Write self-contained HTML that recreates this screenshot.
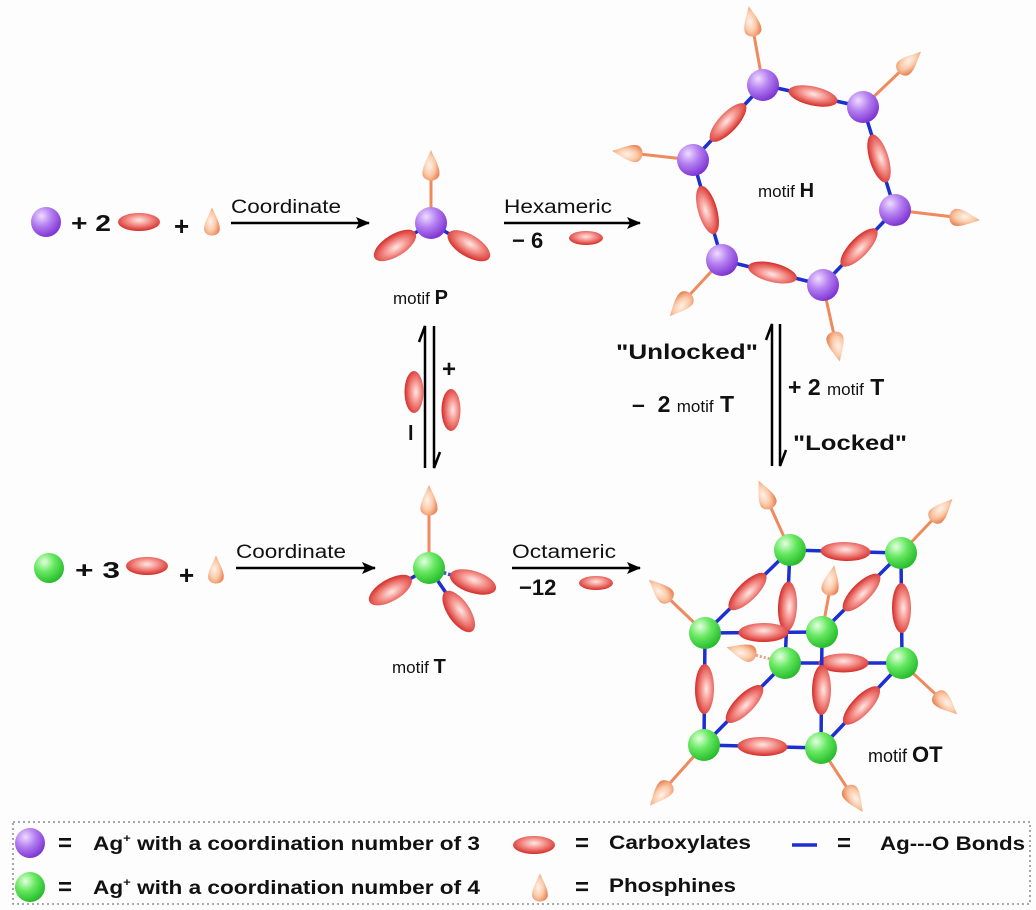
<!DOCTYPE html>
<html><head><meta charset="utf-8"><style>
html,body{margin:0;padding:0;background:#fff}
svg{display:block}
text{font-family:"Liberation Sans",Arial,sans-serif;fill:#111}
.b{font-weight:bold}
</style></head><body>
<svg id="s" width="1036" height="910" viewBox="0 0 1036 910" xmlns="http://www.w3.org/2000/svg">
<defs>
<radialGradient id="gp" cx="0.35" cy="0.3" r="0.75"><stop offset="0" stop-color="#efdcff"/><stop offset="0.45" stop-color="#b47ff0"/><stop offset="1" stop-color="#7a2fd0"/></radialGradient>
<radialGradient id="gg" cx="0.35" cy="0.3" r="0.75"><stop offset="0" stop-color="#e4ffe0"/><stop offset="0.45" stop-color="#66e860"/><stop offset="1" stop-color="#22b828"/></radialGradient>
<radialGradient id="gc" cx="0.5" cy="0.4" r="0.6"><stop offset="0" stop-color="#ffe8e4"/><stop offset="0.45" stop-color="#f4908a"/><stop offset="1" stop-color="#d42a26"/></radialGradient>
<radialGradient id="gf" cx="0.5" cy="0.4" r="0.6"><stop offset="0" stop-color="#fff2ea"/><stop offset="0.55" stop-color="#fbcaa8"/><stop offset="1" stop-color="#e98a5e"/></radialGradient>
<marker id="ah" markerWidth="14" markerHeight="12" refX="13" refY="6" orient="auto" markerUnits="userSpaceOnUse"><path d="M0,0 L14,6 L0,12 L3,6 Z" fill="#000"/></marker>
</defs>
<rect width="1036" height="910" fill="#fdfdfd"/>
<g id="g"></g>

<text x="71" y="231" class="b" font-size="23" textLength="40" lengthAdjust="spacingAndGlyphs">+ 2</text>
<text x="174" y="235" class="b" font-size="26">+</text>
<text x="231" y="213" font-size="19" textLength="110" lengthAdjust="spacingAndGlyphs">Coordinate</text>
<line x1="231" y1="223" x2="369" y2="223" stroke="#000" stroke-width="2.5" marker-end="url(#ah)"/>
<text x="393" y="304" font-size="17">motif <tspan class="b" font-size="20">P</tspan></text>
<text x="504" y="213" font-size="19" textLength="108" lengthAdjust="spacingAndGlyphs">Hexameric</text>
<line x1="504" y1="223" x2="640" y2="223" stroke="#000" stroke-width="2.5" marker-end="url(#ah)"/>
<text x="512" y="248" class="b" font-size="22">− 6</text>
<text x="758" y="197" font-size="17">motif <tspan class="b" font-size="20">H</tspan></text>

<text x="75" y="578" class="b" font-size="23" textLength="45" lengthAdjust="spacingAndGlyphs">+ 3</text>
<text x="179" y="584" class="b" font-size="26">+</text>
<text x="236" y="558" font-size="19" textLength="110" lengthAdjust="spacingAndGlyphs">Coordinate</text>
<line x1="236" y1="568" x2="375" y2="568" stroke="#000" stroke-width="2.5" marker-end="url(#ah)"/>
<text x="392" y="673" font-size="17">motif <tspan class="b" font-size="20">T</tspan></text>
<text x="512" y="558" font-size="19" textLength="104" lengthAdjust="spacingAndGlyphs">Octameric</text>
<line x1="512" y1="568" x2="640" y2="568" stroke="#000" stroke-width="2.5" marker-end="url(#ah)"/>
<text x="519" y="595" class="b" font-size="22">−12</text>
<text x="868" y="762" font-size="18">motif <tspan class="b" font-size="22">OT</tspan></text>

<path d="M425,468 L425,326 L419,342" stroke="#000" stroke-width="2.5" fill="none"/>
<path d="M434,326 L434,468 L440,452" stroke="#000" stroke-width="2.5" fill="none"/>
<text x="442" y="377" class="b" font-size="24">+</text>
<text x="408" y="440" class="b" font-size="20">l</text>

<path d="M772,466 L772,324 L766,340" stroke="#000" stroke-width="2.5" fill="none"/>
<path d="M780,324 L780,466 L786,450" stroke="#000" stroke-width="2.5" fill="none"/>
<text x="616" y="359" class="b" font-size="21" textLength="142" lengthAdjust="spacingAndGlyphs">"Unlocked"</text>
<text x="632" y="412" class="b" font-size="23">–&#160;&#160;2 <tspan font-size="17" font-weight="normal">motif</tspan> T</text>
<text x="788" y="395" class="b" font-size="23">+ 2 <tspan font-size="17" font-weight="normal">motif</tspan> T</text>
<text x="793" y="450" class="b" font-size="21" textLength="114" lengthAdjust="spacingAndGlyphs">"Locked"</text>

<rect x="13" y="822" width="1017" height="82" fill="none" stroke="#777" stroke-width="1.3" stroke-dasharray="2,3"/>
<text x="58" y="851" class="b" font-size="24">=</text>
<text x="93" y="850" class="b" font-size="19" textLength="387" lengthAdjust="spacingAndGlyphs">Ag<tspan font-size="11" dy="-8">+</tspan><tspan dy="8"> with a coordination number of 3</tspan></text>
<text x="58" y="895" class="b" font-size="24">=</text>
<text x="93" y="894" class="b" font-size="19" textLength="387" lengthAdjust="spacingAndGlyphs">Ag<tspan font-size="11" dy="-8">+</tspan><tspan dy="8"> with a coordination number of 4</tspan></text>
<text x="575" y="851" class="b" font-size="24">=</text>
<text x="609" y="849" class="b" font-size="19" textLength="142" lengthAdjust="spacingAndGlyphs">Carboxylates</text>
<text x="575" y="895" class="b" font-size="24">=</text>
<text x="609" y="892" class="b" font-size="19" textLength="127" lengthAdjust="spacingAndGlyphs">Phosphines</text>
<line x1="792" y1="845" x2="817" y2="845" stroke="#1c2fd0" stroke-width="3.5"/>
<text x="837" y="851" class="b" font-size="24">=</text>
<text x="880" y="850" class="b" font-size="19" textLength="145" lengthAdjust="spacingAndGlyphs">Ag---O Bonds</text>
</svg>
<script>
var NS="http://www.w3.org/2000/svg",G=document.getElementById("g");
function el(t,a){var e=document.createElementNS(NS,t);for(var k in a)e.setAttribute(k,a[k]);G.appendChild(e);return e;}
function line(x1,y1,x2,y2,c,w,d){var o={x1:x1,y1:y1,x2:x2,y2:y2,stroke:c,"stroke-width":w};if(d)o["stroke-dasharray"]=d;el("line",o);}
function sph(x,y,t,r){el("circle",{cx:x,cy:y,r:r||16,fill:t=="p"?"url(#gp)":"url(#gg)"});}
function ell(x,y,rx,ry,ang){el("ellipse",{cx:x,cy:y,rx:rx,ry:ry,fill:"url(#gc)",transform:"rotate("+ang+" "+x+" "+y+")"});}
function drop(x,y,ang,s){s=s||1.2;
 el("path",{d:"M"+(15*s)+",0 C"+(8*s)+",-"+(3*s)+" 0,-"+(8*s)+" -"+(6*s)+",-"+(7*s)+" C-"+(12*s)+",-"+(5*s)+" -"+(12*s)+","+(5*s)+" -"+(6*s)+","+(7*s)+" C0,"+(8*s)+" "+(8*s)+","+(3*s)+" "+(15*s)+",0Z",fill:"url(#gf)",transform:"translate("+x+" "+y+") rotate("+ang+")"});}
function carb(x1,y1,x2,y2,rx,dash){var dx=x2-x1,dy=y2-y1,L=Math.hypot(dx,dy);rx=rx||Math.min(24,L*0.34);
 line(x1,y1,x2,y2,"#1c2fd0",3.5,dash);ell((x1+x2)/2,(y1+y2)/2,rx,9.5,Math.atan2(dy,dx)*180/Math.PI);}
function phos(x1,y1,x2,y2,dash){var a=Math.atan2(y2-y1,x2-x1)*180/Math.PI;
 var L=Math.hypot(x2-x1,y2-y1),ux=(x2-x1)/L,uy=(y2-y1)/L;
 line(x1,y1,x2-ux*6,y2-uy*6,dash?"#f0a080":"#ee8a5c",3,dash);drop(x2,y2,a);}
function arm(x1,y1,x2,y2,dash){var dx=x2-x1,dy=y2-y1,L=Math.hypot(dx,dy),ux=dx/L,uy=dy/L;
 var cx=x2-ux*20,cy=y2-uy*20;line(x1,y1,cx,cy,dash?"#3a4ad8":"#1c2fd0",3.5,dash);ell(cx,cy,24,11,Math.atan2(dy,dx)*180/Math.PI);}

sph(46,222,"p",15);ell(139,222,21,9,0);drop(212,224,-90,1.1);
phos(431,223,431,168);arm(431,223,378,256);arm(431,223,486,256);sph(431,223,"p",16);
ell(586,238,17,7,0);
var H=[[763,85],[863,107],[895,210],[823,285],[722,260],[693,160]];
var HP=[[752,24],[908,64],[962,218],[836,344],[682,303],[630,153]];
for(var i=0;i<6;i++){var a=H[i],b=H[(i+1)%6];carb(a[0],a[1],b[0],b[1],25);}
for(var i=0;i<6;i++)phos(H[i][0],H[i][1],HP[i][0],HP[i][1]);
for(var i=0;i<6;i++)sph(H[i][0],H[i][1],"p",16);
sph(49,568,"g",15);ell(147,566,21,9,0);drop(216,572,-90,1.1);
phos(429,568,429,503);arm(429,568,373,600);arm(429,568,470,628);arm(429,568,492,588,"3,2");sph(429,568,"g",16);
ell(596,583,17,7,0);
ell(414,392,21,9.5,90);ell(451,410,21,9.5,90);
var N={a:[790,550],b:[901,553],c:[705,633],d:[822,632],e:[785,663],f:[902,663],g:[704,745],h:[821,748]};
var E=[["a","b"],["a","c"],["a","e"],["b","d"],["b","f"],["e","f"],["e","g"],["c","g"],["g","h"],["f","h"],["c","d"],["d","h"]];
E.forEach(function(p){var A=N[p[0]],B=N[p[1]];carb(A[0],A[1],B[0],B[1],25);});
var P=[["a",766,497],["b",940,512],["c",662,592],["f",944,702],["g",662,792],["h",853,797],["d",831,583]];
P.forEach(function(p){var A=N[p[0]];phos(A[0],A[1],p[1],p[2]);});
phos(785,663,744,652,"2,2");
for(var k in N)sph(N[k][0],N[k][1],"g",16);
sph(30,843,"p",15);sph(30,887,"g",15);ell(534,845,21,9,0);drop(540,890,-90,1.1);
</script>
</body></html>
